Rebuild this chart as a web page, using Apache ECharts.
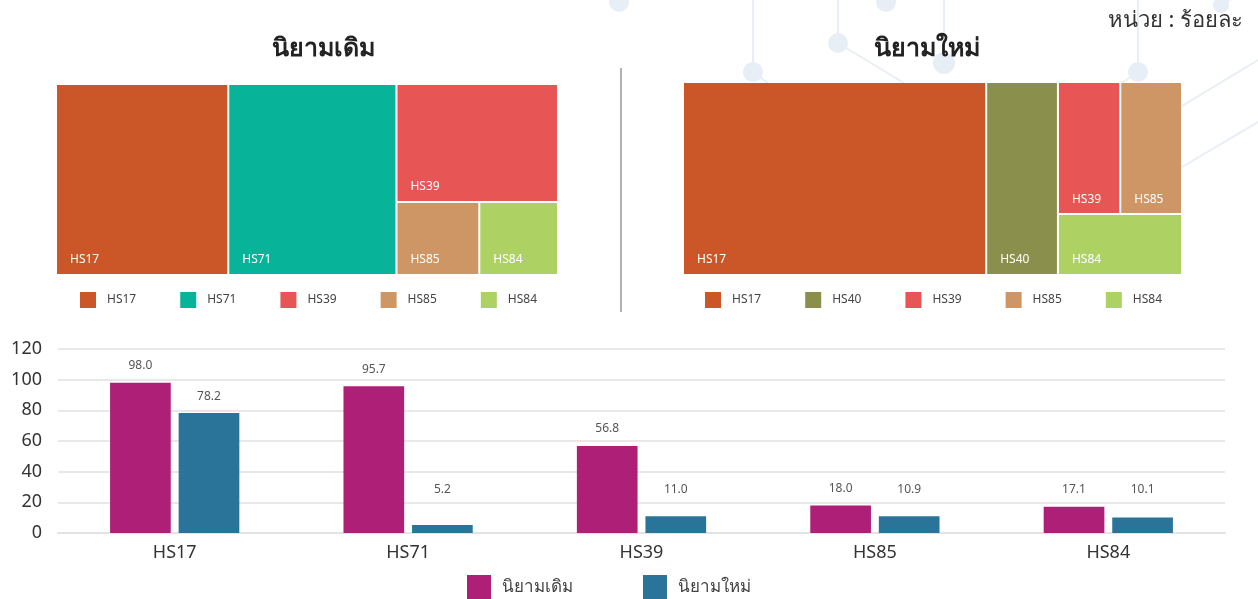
<!DOCTYPE html>
<html>
<head>
<meta charset="utf-8">
<script src="https://cdn.jsdelivr.net/npm/echarts@6/dist/echarts.min.js"></script>
<style>
  html, body { margin: 0; padding: 0; background: #fff; }
  #main { width: 1258px; height: 599px; }
</style>
</head>
<body>
<div id="main"></div>
<script>
// ข้อมูล
const categories = ['HS17', 'HS71', 'HS39', 'HS85', 'HS84'];
const oldValues = [98.0, 95.7, 56.8, 18.0, 17.1];
const newValues = [78.2, 5.2, 11.0, 10.9, 10.1];

const oldTreeNames = ['HS17', 'HS71', 'HS39', 'HS85', 'HS84'];
const oldTreeValues = [98.0, 95.7, 56.8, 18.0, 17.1];
const newTreeNames = ['HS17', 'HS40', 'HS39', 'HS85', 'HS84'];
const newTreeValues = [78.2, 18.5, 11.0, 10.9, 10.1];
// กลุ่มย่อยของ treemap ขวา (ให้การจัดวางเหมือนต้นฉบับ)
const newTreeGroups = [0, 0, 1, 1, 1];

const yTicks = [0, 20, 40, 60, 80, 100, 120];
const seriesNames = ['นิยามเดิม', 'นิยามใหม่'];

const codeColors = {
  HS17: '#CB5729', HS71: '#08B499', HS39: '#E85555',
  HS85: '#CF9665', HS84: '#ADD163', HS40: '#8A8F4C'
};
const barColors = ['#AE2078', '#2B7499'];
const deco = '#E8EEF5';
const FONT = '"Liberation Sans Narrow", "Noto Sans", sans-serif';

const chart = echarts.init(document.getElementById('main'));

function leaf(name, value) {
  return { name: name, value: value, itemStyle: { color: codeColors[name] } };
}

function treeData(names, values, groups) {
  if (!groups) return names.map((n, i) => leaf(n, values[i]));
  let out = [];
  names.forEach((n, i) => {
    const g = groups[i];
    if (!out[g]) out[g] = { name: '', children: [] };
    out[g].children.push(leaf(n, values[i]));
  });
  return out;
}

// pie เปล่า ใช้แค่ให้ legend ของ treemap มีสี
function legendPie(names) {
  return {
    type: 'pie',
    radius: [0, 0],
    center: [-100, -100],
    silent: true,
    label: { show: false },
    labelLine: { show: false },
    data: names.map(n => ({ name: n, value: 0, itemStyle: { color: codeColors[n] } }))
  };
}

function treemap(names, values, groups, left, top, width, height) {
  return {
    type: 'treemap',
    left: left, top: top, width: width, height: height,
    roam: false,
    nodeClick: false,
    breadcrumb: { show: false },
    sort: 'desc',
    label: {
      show: true,
      position: 'insideBottomLeft',
      distance: 8,
      padding: [0, 0, 0, 5],
      color: '#fff',
      fontSize: 12,
      fontFamily: FONT
    },
    upperLabel: { show: false },
    itemStyle: { borderColor: '#fff', borderWidth: 0, gapWidth: 2 },
    levels: [
      { itemStyle: { borderWidth: 0, gapWidth: 2 } },
      { itemStyle: { borderWidth: 0, gapWidth: 2 } }
    ],
    emphasis: { disabled: true },
    data: treeData(names, values, groups)
  };
}

function legendFor(names, left) {
  return {
    data: names,
    left: left,
    top: 292,
    padding: 0,
    itemWidth: 16,
    itemHeight: 16,
    itemGap: 44,
    icon: 'rect',
    selectedMode: false,
    textStyle: { fontSize: 12, color: '#444', fontFamily: FONT, padding: [0, 0, 0, 6] }
  };
}

function barLabel() {
  return {
    show: true,
    position: 'top',
    distance: 11,
    fontSize: 12,
    color: '#555',
    fontFamily: FONT,
    formatter: p => p.value.toFixed(1)
  };
}

const option = {
  backgroundColor: '#ffffff',
  textStyle: { fontFamily: FONT },
  title: [
    { text: 'นิยามเดิม', left: 318, top: 31, textAlign: 'center',
      textStyle: { fontSize: 25, fontWeight: 'bold', color: '#222', fontFamily: FONT } },
    { text: 'นิยามใหม่', left: 922, top: 31, textAlign: 'center',
      textStyle: { fontSize: 25, fontWeight: 'bold', color: '#222', fontFamily: FONT } },
    { text: 'หน่วย : ร้อยละ', right: 10, top: 5,
      textStyle: { fontSize: 22, fontWeight: 'normal', color: '#333', fontFamily: FONT } }
  ],
  graphic: [
    // ลายพื้นหลัง
    { type: 'group', z: -10, silent: true, children: [
      { type: 'line', shape: { x1: 753, y1: 0, x2: 753, y2: 72 }, style: { stroke: deco, lineWidth: 2 } },
      { type: 'line', shape: { x1: 753, y1: 72, x2: 768, y2: 83 }, style: { stroke: deco, lineWidth: 2 } },
      { type: 'line', shape: { x1: 838, y1: 0, x2: 838, y2: 43 }, style: { stroke: deco, lineWidth: 2 } },
      { type: 'line', shape: { x1: 838, y1: 43, x2: 904, y2: 83 }, style: { stroke: deco, lineWidth: 2 } },
      { type: 'line', shape: { x1: 944, y1: 0, x2: 944, y2: 63 }, style: { stroke: deco, lineWidth: 2 } },
      { type: 'line', shape: { x1: 1138, y1: 0, x2: 1138, y2: 72 }, style: { stroke: deco, lineWidth: 2 } },
      { type: 'line', shape: { x1: 1138, y1: 72, x2: 1122, y2: 83 }, style: { stroke: deco, lineWidth: 2 } },
      { type: 'line', shape: { x1: 1221, y1: 5, x2: 1240, y2: -6 }, style: { stroke: deco, lineWidth: 2 } },
      { type: 'line', shape: { x1: 1258, y1: 60, x2: 1182, y2: 106 }, style: { stroke: deco, lineWidth: 2 } },
      { type: 'line', shape: { x1: 1258, y1: 122, x2: 1182, y2: 167 }, style: { stroke: deco, lineWidth: 2 } },
      { type: 'circle', shape: { cx: 619, cy: 2, r: 10 }, style: { fill: deco } },
      { type: 'circle', shape: { cx: 753, cy: 72, r: 10 }, style: { fill: deco } },
      { type: 'circle', shape: { cx: 838, cy: 43, r: 10 }, style: { fill: deco } },
      { type: 'circle', shape: { cx: 886, cy: 2, r: 10 }, style: { fill: deco } },
      { type: 'circle', shape: { cx: 944, cy: 63, r: 11 }, style: { fill: deco } },
      { type: 'circle', shape: { cx: 1138, cy: 72, r: 10 }, style: { fill: deco } },
      { type: 'circle', shape: { cx: 1221, cy: 5, r: 8 }, style: { fill: deco } }
    ] },
    // เส้นคั่นกลาง
    { type: 'line', shape: { x1: 621, y1: 68, x2: 621, y2: 312 }, style: { stroke: '#999', lineWidth: 1.5 } }
  ],
  legend: [
    legendFor(oldTreeNames, 80),
    legendFor(newTreeNames, 705),
    {
      data: seriesNames,
      left: 467,
      top: 575,
      padding: 0,
      itemWidth: 24,
      itemHeight: 24,
      itemGap: 70,
      icon: 'rect',
      textStyle: { fontSize: 17, color: '#444', fontFamily: FONT, padding: [0, 0, 0, 6] }
    }
  ],
  grid: { left: 58, right: 33, top: 349, bottom: 66 },
  xAxis: {
    type: 'category',
    data: categories,
    axisLine: { lineStyle: { color: '#e3e3e3', width: 2 } },
    axisTick: { show: false },
    axisLabel: { fontSize: 18, color: '#333', margin: 11, fontFamily: FONT }
  },
  yAxis: {
    type: 'value',
    min: yTicks[0],
    max: yTicks[yTicks.length - 1],
    interval: yTicks[1] - yTicks[0],
    axisLine: { show: false },
    axisTick: { show: false },
    axisLabel: { fontSize: 18, color: '#333', margin: 16, fontFamily: FONT },
    splitLine: { lineStyle: { color: '#e8e8e8', width: 2 } }
  },
  series: [
    treemap(oldTreeNames, oldTreeValues, null, 57, 85, 500, 189),
    treemap(newTreeNames, newTreeValues, newTreeGroups, 684, 83, 497, 191),
    legendPie(oldTreeNames),
    legendPie(newTreeNames),
    {
      name: seriesNames[0], type: 'bar', data: oldValues,
      barWidth: '26%', barGap: '13%',
      itemStyle: { color: barColors[0] },
      label: barLabel()
    },
    {
      name: seriesNames[1], type: 'bar', data: newValues,
      barWidth: '26%', barGap: '13%',
      itemStyle: { color: barColors[1] },
      label: barLabel()
    }
  ]
};

chart.setOption(option);

// ป้ายค่าของแท่งเตี้ยไม่ให้ต่ำกว่าระดับ 17.5
const labelFloor = 17.5;
function withLabelFloor(values) {
  const yFloor = chart.convertToPixel({ yAxisIndex: 0 }, labelFloor);
  return values.map(v => {
    const yv = chart.convertToPixel({ yAxisIndex: 0 }, v);
    return { value: v, label: { distance: 11 + Math.max(0, yv - yFloor) } };
  });
}
chart.setOption({
  series: [{}, {}, {}, {}, { data: withLabelFloor(oldValues) }, { data: withLabelFloor(newValues) }]
});
</script>
</body>
</html>
